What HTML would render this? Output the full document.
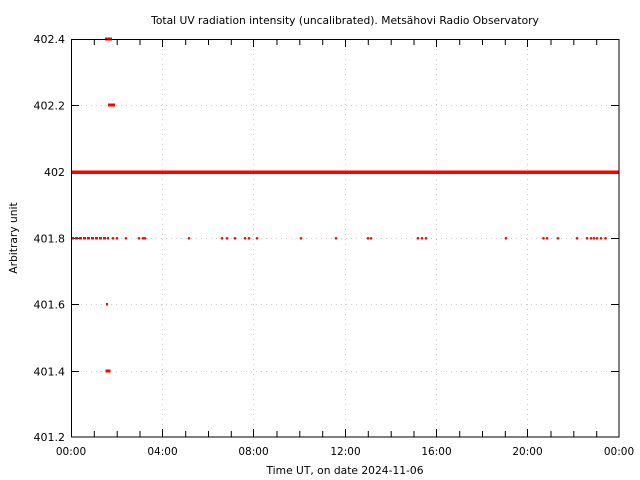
<!DOCTYPE html>
<html><head><meta charset="utf-8"><style>
html,body{margin:0;padding:0;background:#fff}
svg{display:block;font-family:"DejaVu Sans","Liberation Sans",sans-serif}
</style></head><body>
<svg width="640" height="480" xmlns="http://www.w3.org/2000/svg">
<rect width="640" height="480" fill="#fff"/>
<g stroke="#ccc" stroke-width="1" stroke-dasharray="1,4">
<line x1="71" y1="105.5" x2="619" y2="105.5"/>
<line x1="71" y1="172.5" x2="619" y2="172.5"/>
<line x1="71" y1="238.5" x2="619" y2="238.5"/>
<line x1="71" y1="304.5" x2="619" y2="304.5"/>
<line x1="71" y1="371.5" x2="619" y2="371.5"/>
<line x1="162.5" y1="39" x2="162.5" y2="437"/>
<line x1="253.5" y1="39" x2="253.5" y2="437"/>
<line x1="345.5" y1="39" x2="345.5" y2="437"/>
<line x1="436.5" y1="39" x2="436.5" y2="437"/>
<line x1="527.5" y1="39" x2="527.5" y2="437"/>
</g>
<g stroke="#000" stroke-width="1">
<path d="M94.3 437v-6M117.2 437v-6M140 437v-6M162.5 437v-8M185.7 437v-6M208.5 437v-6M231.3 437v-6M253.5 437v-8M277 437v-6M299.8 437v-6M322.7 437v-6M345.5 437v-8M368.3 437v-6M391.2 437v-6M414 437v-6M436.5 437v-8M459.7 437v-6M482.5 437v-6M505.3 437v-6M527.5 437v-8M551 437v-6M573.8 437v-6M596.7 437v-6"/>
<path d="M94.3 39v6M117.2 39v6M140 39v6M162.5 39v8M185.7 39v6M208.5 39v6M231.3 39v6M253.5 39v8M277 39v6M299.8 39v6M322.7 39v6M345.5 39v8M368.3 39v6M391.2 39v6M414 39v6M436.5 39v8M459.7 39v6M482.5 39v6M505.3 39v6M527.5 39v8M551 39v6M573.8 39v6M596.7 39v6"/>
<path d="M71 105.5h8M71 172.5h8M71 238.5h8M71 304.5h8M71 371.5h8M619 105.5h-8M619 172.5h-8M619 238.5h-8M619 304.5h-8M619 371.5h-8"/>
</g>
<g fill="#f00">
<rect x="71" y="170.5" width="548" height="3.5"/>
<rect x="105" y="37.5" width="7" height="3"/>
<rect x="108" y="103.5" width="7" height="3"/>
<rect x="106" y="303" width="2" height="2.5"/>
<rect x="105.5" y="369.5" width="5" height="3"/>
</g>
<line x1="71" y1="238.3" x2="109" y2="238.3" stroke="#f00" stroke-width="2.5" stroke-dasharray="3,1"/>
<g fill="#f00">
<circle cx="113" cy="238.3" r="1.3"/><circle cx="117" cy="238.3" r="1.3"/><circle cx="126" cy="238.3" r="1.3"/>
<circle cx="139" cy="238.3" r="1.3"/><circle cx="143" cy="238.3" r="1.3"/><circle cx="145" cy="238.3" r="1.3"/>
<circle cx="189" cy="238.3" r="1.3"/><circle cx="222" cy="238.3" r="1.3"/><circle cx="227" cy="238.3" r="1.3"/>
<circle cx="235" cy="238.3" r="1.3"/><circle cx="245" cy="238.3" r="1.3"/><circle cx="249" cy="238.3" r="1.3"/>
<circle cx="257" cy="238.3" r="1.3"/><circle cx="301" cy="238.3" r="1.3"/><circle cx="336" cy="238.3" r="1.3"/>
<circle cx="368" cy="238.3" r="1.3"/><circle cx="371" cy="238.3" r="1.3"/><circle cx="418" cy="238.3" r="1.3"/>
<circle cx="422" cy="238.3" r="1.3"/><circle cx="426" cy="238.3" r="1.3"/><circle cx="506" cy="238.3" r="1.3"/>
<circle cx="543.5" cy="238.3" r="1.3"/><circle cx="547" cy="238.3" r="1.3"/><circle cx="558" cy="238.3" r="1.3"/>
<circle cx="577" cy="238.3" r="1.3"/><circle cx="587" cy="238.3" r="1.3"/><circle cx="591" cy="238.3" r="1.3"/>
<circle cx="594" cy="238.3" r="1.3"/><circle cx="597" cy="238.3" r="1.3"/><circle cx="601" cy="238.3" r="1.3"/>
<circle cx="605.5" cy="238.3" r="1.3"/>
</g>
<rect x="71.5" y="39.5" width="547.5" height="397.5" fill="none" stroke="#000" stroke-width="1"/>
<g font-size="11" fill="#000" text-anchor="end">
<text x="65" y="43">402.4</text>
<text x="65" y="109.5">402.2</text>
<text x="65" y="176">402</text>
<text x="65" y="242.5">401.8</text>
<text x="65" y="308.5">401.6</text>
<text x="65" y="375.5">401.4</text>
<text x="65" y="441">401.2</text>
</g>
<g font-size="10.5" fill="#000" text-anchor="middle">
<text x="71" y="455">00:00</text>
<text x="162.5" y="455">04:00</text>
<text x="253.5" y="455">08:00</text>
<text x="345.5" y="455">12:00</text>
<text x="436.5" y="455">16:00</text>
<text x="527.5" y="455">20:00</text>
<text x="619" y="455">00:00</text>
</g>
<g font-size="10.7" fill="#000" text-anchor="middle">
<text x="345" y="474">Time UT, on date 2024-11-06</text>
<text x="345" y="24">Total UV radiation intensity (uncalibrated). Metsähovi Radio Observatory</text>
<text transform="translate(17,238) rotate(-90)">Arbitrary unit</text>
</g>
</svg>
</body></html>
